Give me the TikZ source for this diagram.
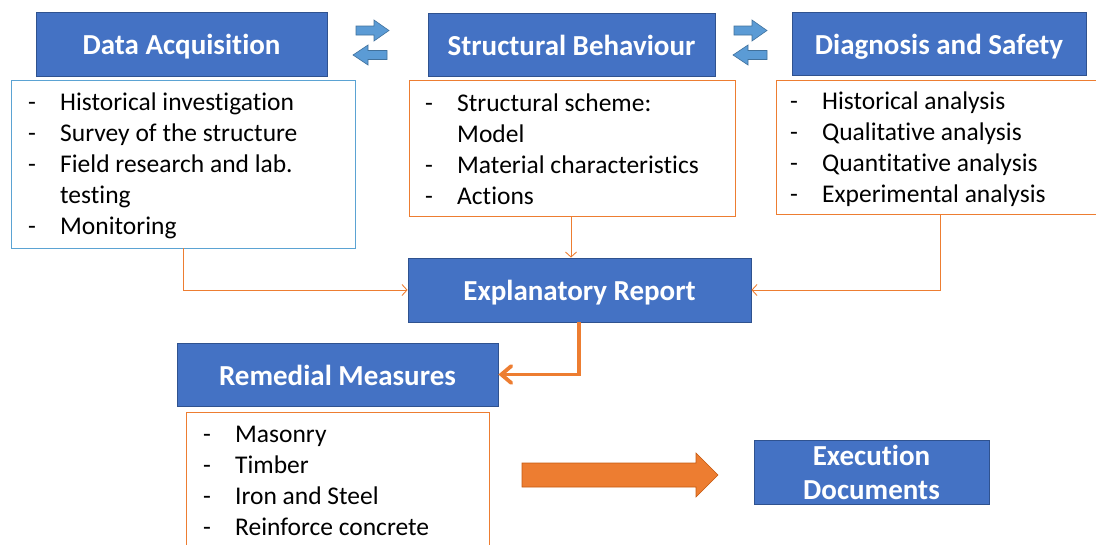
\documentclass[tikz,border=0pt]{standalone}
\usepackage{fontspec}
\setmainfont{Carlito}[RawFeature={-liga;-clig;-calt;-rlig;-dlig}]
\usetikzlibrary{arrows.meta}
\definecolor{hblue}{HTML}{4472C4}
\definecolor{hbord}{HTML}{2F528F}
\definecolor{lblue}{HTML}{5BA3D3}
\definecolor{aorange}{HTML}{ED7D31}
\definecolor{dorange}{HTML}{C55A11}
\definecolor{sblue}{HTML}{5B9BD5}
\definecolor{sbord}{HTML}{41719C}
\tikzset{
  hdr/.style={draw=hbord, fill=hblue, line width=0.8pt, text=white, font=\fontsize{29}{34}\selectfont\bfseries, inner sep=0pt, align=center},
  hdrone/.style={hdr, text height=21pt, text depth=0pt},
  listbox/.style={draw=aorange, line width=0.8pt, inner sep=0pt},
  listtext/.style={anchor=north west, inner sep=0pt, align=left, font=\fontsize{25.5}{31}\selectfont},
  thin/.style={draw=aorange, line width=0.9pt, -{Straight Barb[length=5pt,width=11pt]}},
  thick/.style={draw=aorange, line width=3.8pt, -{Straight Barb[length=10pt,width=17pt,line cap=round]}},
  small/.style={fill=sblue, draw=sbord, line width=0.6pt},
}
\newcommand\dsh{\makebox[32pt][l]{-}}
\newcommand\tii{t\kern0pt i}
\begin{document}
\begin{tikzpicture}[x=1pt,y=-1pt]
\useasboundingbox (0,0) rectangle (1096,544);
% headers
\node[hdrone, minimum width=291pt, minimum height=64pt] (da) at (181.5,44) {Data Acquisition};
\node[hdrone, minimum width=287pt, minimum height=63pt] (sb) at (571.5,44.5) {Structural Behaviour};
\node[hdrone, minimum width=294pt, minimum height=63pt] (ds) at (939,43.5) {Diagnosis and Safety};
% list boxes
\node[listbox, draw=lblue, minimum width=344pt, minimum height=168pt] (dal) at (183,164) {};
\node[listbox, minimum width=326pt, minimum height=136pt] (sbl) at (572,148) {};
\node[listbox, minimum width=324pt, minimum height=134pt] (dsl) at (938,147) {};
\node[listtext] (dat) at (28,93) {\dsh Historical investiga\tii on\\\dsh Survey of the structure\\\dsh Field research and lab.\\\hspace*{32pt}tes\tii ng\\\dsh Monitoring};
\node[listtext] (sbt) at (425,94) {\dsh Structural scheme:\\\hspace*{32pt}Model\\\dsh Material characteris\tii cs\\\dsh Ac\tii ons};
\node[listtext] (dst) at (790,92) {\dsh Historical analysis\\\dsh Qualita\tii ve analysis\\\dsh Quan\tii ta\tii ve analysis\\\dsh Experimental analysis};
% explanatory
\node[hdrone, minimum width=343pt, minimum height=64pt] (er) at (579.5,290) {Explanatory Report};
\node[hdrone, minimum width=321pt, minimum height=63pt] (rm) at (337.5,374.5) {Remedial Measures};
\draw[listbox] (186,412) rectangle (489,560);
\node[listtext] (rmt) at (203,426) {\dsh Masonry\\\dsh Timber\\\dsh Iron and Steel\\\dsh Reinforce concrete};
\node[hdr, minimum width=235pt, minimum height=64pt] (ed) at (871.5,472) {Execu\tii on\\Documents};
% connectors
\draw[thin] (dal.south -| 183,0) |- (er.west);
\draw[thin] (sbl.south -| 571,0) -- (er.north -| 571,0);
\draw[thin] (dsl.south -| 940,0) |- (er.east);
\draw[thick] (er.south -| 579,0) |- (rm.east);
% big block arrow
\fill[aorange, draw=dorange, line width=0.6pt] (522,463) -- (696,463) -- (696,453) -- (718,475) -- (696,497) -- (696,487) -- (522,487) -- cycle;
% small double arrows
\foreach \xa/\xb in {356/353, 734/733}{
  \draw[small] (\xa,26) -- (\xa+18,26) -- (\xa+18,20) -- (\xa+33,30.5) -- (\xa+18,41) -- (\xa+18,35) -- (\xa,35) -- cycle;
  \draw[small] (\xb+34,50.5) -- (\xb+15,50.5) -- (\xb+15,45) -- (\xb,55) -- (\xb+15,65) -- (\xb+15,59.5) -- (\xb+34,59.5) -- cycle;
}
\end{tikzpicture}
\end{document}
